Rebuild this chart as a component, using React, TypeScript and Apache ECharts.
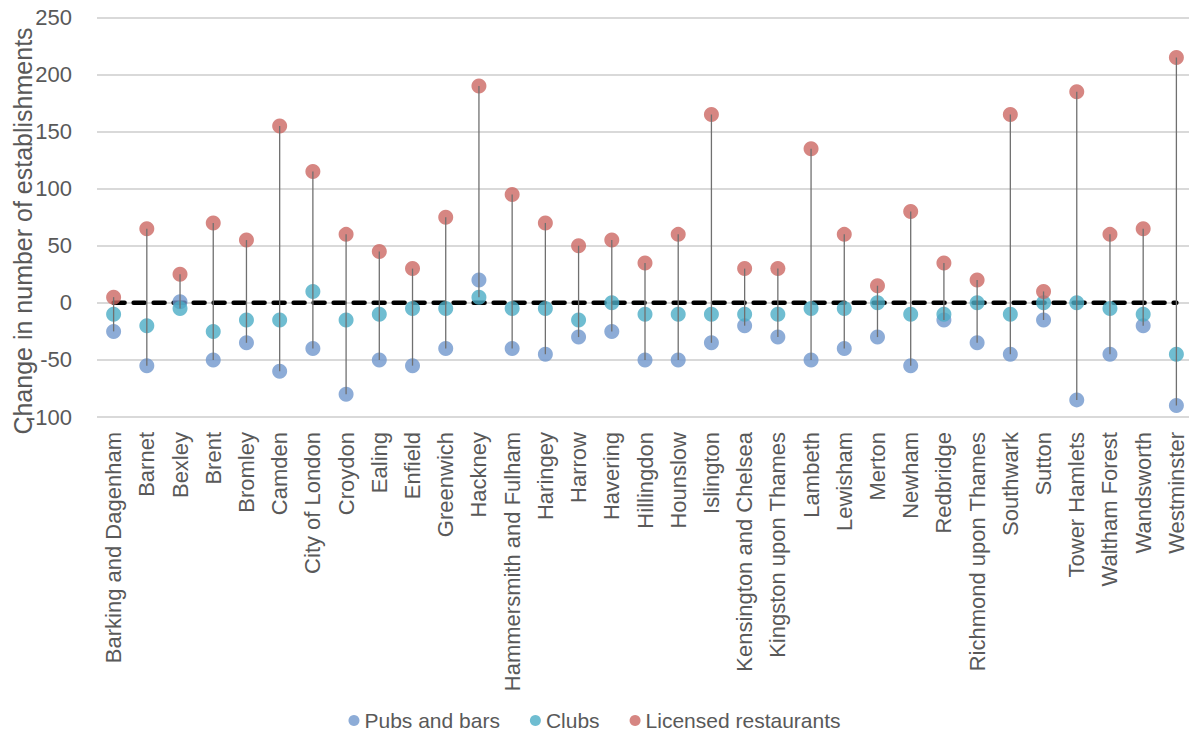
import React, { useEffect, useRef } from "react";
import * as echarts from "echarts";

const boroughs = [
  "Barking and Dagenham", "Barnet", "Bexley", "Brent", "Bromley", "Camden", "City of London",
  "Croydon", "Ealing", "Enfield", "Greenwich", "Hackney", "Hammersmith and Fulham", "Haringey",
  "Harrow", "Havering", "Hillingdon", "Hounslow", "Islington", "Kensington and Chelsea",
  "Kingston upon Thames", "Lambeth", "Lewisham", "Merton", "Newham", "Redbridge",
  "Richmond upon Thames", "Southwark", "Sutton", "Tower Hamlets", "Waltham Forest",
  "Wandsworth", "Westminster",
];

const pubsAndBars = [
  -25, -55, 1, -50, -35, -60, -40, -80, -50, -55, -40, 20, -40, -45, -30, -25, -50,
  -50, -35, -20, -30, -50, -40, -30, -55, -15, -35, -45, -15, -85, -45, -20, -90,
];

const clubs = [
  -10, -20, -5, -25, -15, -15, 10, -15, -10, -5, -5, 5, -5, -5, -15, 0, -10,
  -10, -10, -10, -10, -5, -5, 0, -10, -10, 0, -10, 0, 0, -5, -10, -45,
];

const licensedRestaurants = [
  5, 65, 25, 70, 55, 155, 115, 60, 45, 30, 75, 190, 95, 70, 50, 55, 35,
  60, 165, 30, 30, 135, 60, 15, 80, 35, 20, 165, 10, 185, 60, 65, 215,
];

const yTicks = { min: -100, max: 250, interval: 50 };
const yTitle = "Change in number of establishments";

export default function App() {
  const ref = useRef<HTMLDivElement>(null);

  useEffect(() => {
    if (!ref.current) return;
    const chart = echarts.init(ref.current, undefined, { renderer: "svg" });
    const font = "'Liberation Sans', Arial, sans-serif";
    const hiLo = boroughs.map((_, i) => {
      const vals = [pubsAndBars[i], clubs[i], licensedRestaurants[i]];
      return [i, Math.min(...vals), Math.max(...vals)];
    });
    chart.setOption({
      animation: false,
      textStyle: { fontFamily: font },
      grid: {
        left: 97,
        top: 17.5,
        height: 399.5,
        width: 1096,
        outerBoundsMode: "none",
        containLabel: false,
      },
      graphic: [
        {
          type: "text",
          x: 23,
          y: 231,
          rotation: Math.PI / 2,
          style: {
            text: yTitle,
            fontSize: 25,
            fontFamily: font,
            fill: "#595959",
            align: "center",
            verticalAlign: "middle",
          },
        },
      ],
      legend: {
        top: 705,
        left: "center",
        icon: "circle",
        itemWidth: 11,
        itemHeight: 11,
        itemGap: 30,
        textStyle: { fontSize: 21, color: "#595959", fontFamily: font },
        data: ["Pubs and bars", "Clubs", "Licensed restaurants"],
      },
      xAxis: {
        type: "category",
        data: boroughs,
        boundaryGap: true,
        axisLine: { show: false },
        axisTick: { show: false },
        axisLabel: {
          rotate: 90,
          interval: 0,
          fontSize: 22,
          color: "#595959",
          margin: 15,
          fontFamily: font,
          hideOverlap: false,
        },
      },
      yAxis: {
        type: "value",
        min: yTicks.min,
        max: yTicks.max,
        interval: yTicks.interval,
        axisLine: { show: false },
        axisTick: { show: false },
        axisLabel: { fontSize: 22, color: "#595959", margin: 25, fontFamily: font },
        splitLine: { lineStyle: { color: "#d9d9d9", width: 2 } },
      },
      series: [
        {
          name: "zero",
          type: "line",
          data: boroughs.map(() => 0),
          symbol: "none",
          lineStyle: { color: "#000", width: 4.5, type: [11, 9], cap: "round" },
          z: 1,
          silent: true,
        },
        {
          name: "Pubs and bars",
          type: "scatter",
          data: pubsAndBars,
          symbolSize: 15,
          itemStyle: { color: "#7097cd" },
          z: 3,
        },
        {
          name: "Clubs",
          type: "scatter",
          data: clubs,
          symbolSize: 15,
          itemStyle: { color: "#4bacc6" },
          z: 4,
        },
        {
          name: "Licensed restaurants",
          type: "scatter",
          data: licensedRestaurants,
          symbolSize: 15,
          itemStyle: { color: "#cc6863" },
          z: 5,
        },
        {
          name: "hilo",
          type: "custom",
          data: hiLo,
          encode: { x: 0, y: [1, 2] },
          z: 6,
          silent: true,
          renderItem: (params: any, api: any) => {
            const p1 = api.coord([api.value(0), api.value(1)]);
            const p2 = api.coord([api.value(0), api.value(2)]);
            return {
              type: "line",
              shape: { x1: p1[0], y1: p1[1], x2: p2[0], y2: p2[1] },
              style: { stroke: "#707070", lineWidth: 1.3 },
            };
          },
        },
      ],
    });
    return () => chart.dispose();
  }, []);

  return (
    <div
      ref={ref}
      style={{ position: "fixed", left: 0, top: 0, width: 1189, height: 733, background: "#fff" }}
    />
  );
}
